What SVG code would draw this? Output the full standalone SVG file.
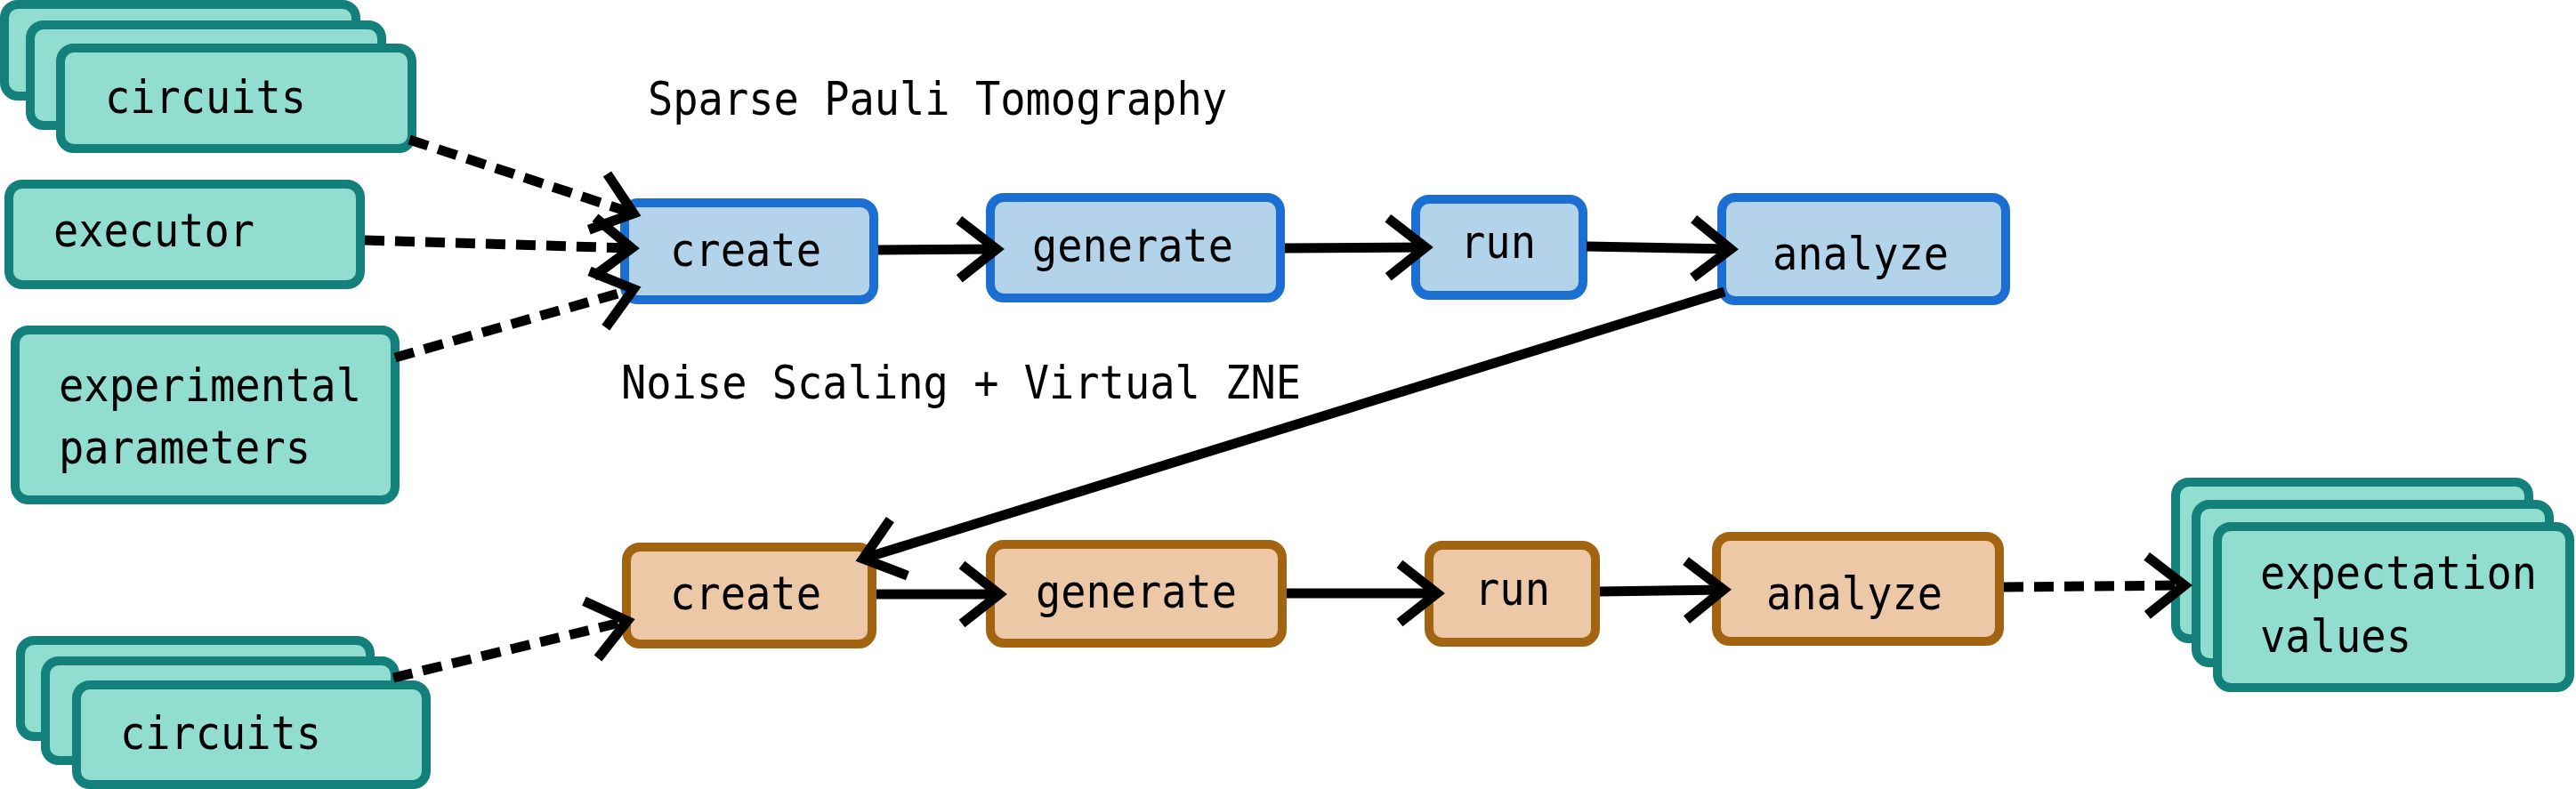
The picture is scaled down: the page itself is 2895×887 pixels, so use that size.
<svg xmlns="http://www.w3.org/2000/svg" width="2895" height="887" viewBox="0 0 2895 887">
<style>
.teal{fill:#91ddd0;stroke:#14807c;stroke-width:10}
.blue{fill:#b3d3eb;stroke:#1b6fd2;stroke-width:10}
.orange{fill:#ecc8a6;stroke:#a36412;stroke-width:10}
text{font-family:"DejaVu Sans Mono","Liberation Mono",monospace;font-size:51px;fill:#000}
.solid{fill:none;stroke:#000;stroke-width:11;marker-end:url(#chev)}
.dash{fill:none;stroke:#000;stroke-width:11;stroke-dasharray:22 12;marker-end:url(#chev)}
</style>
<defs>
<marker id="chev" markerUnits="userSpaceOnUse" viewBox="-60 -50 70 100" markerWidth="70" markerHeight="100" refX="0" refY="0" orient="auto" overflow="visible">
<path d="M-42,-33 L0,0 L-42,33" fill="none" stroke="#000" stroke-width="11" stroke-dasharray="none" stroke-linejoin="miter" stroke-miterlimit="10"/>
</marker>
</defs>
<rect width="2895" height="887" fill="#fff"/>
<text x="728" y="129" textLength="651" lengthAdjust="spacingAndGlyphs">Sparse Pauli Tomography</text>
<text x="698" y="448" textLength="764" lengthAdjust="spacingAndGlyphs">Noise Scaling + Virtual ZNE</text>
<g id="circuits-in-top">
<rect class="teal" x="5" y="5" width="395" height="103" rx="15"/>
<rect class="teal" x="34" y="28" width="395" height="113" rx="15"/>
<rect class="teal" x="68" y="54" width="395" height="113" rx="15"/>
<text x="118" y="127" textLength="226" lengthAdjust="spacingAndGlyphs">circuits</text>
</g>
<g id="executor">
<rect class="teal" x="10" y="207" width="395" height="113" rx="15"/>
<text x="60" y="277" textLength="226" lengthAdjust="spacingAndGlyphs">executor</text>
</g>
<g id="experimental-parameters">
<rect class="teal" x="17" y="371" width="427" height="191" rx="15"/>
<text x="66" y="451" textLength="340" lengthAdjust="spacingAndGlyphs">experimental</text>
<text x="66" y="521" textLength="283" lengthAdjust="spacingAndGlyphs">parameters</text>
</g>
<g id="circuits-in-bottom">
<rect class="teal" x="23" y="720" width="393" height="108" rx="15"/>
<rect class="teal" x="51" y="743" width="393" height="112" rx="15"/>
<rect class="teal" x="86" y="770" width="393" height="112" rx="15"/>
<text x="135" y="842" textLength="226" lengthAdjust="spacingAndGlyphs">circuits</text>
</g>
<g id="expectation-values">
<rect class="teal" x="2445" y="542" width="397" height="176" rx="15"/>
<rect class="teal" x="2468" y="567" width="397" height="178" rx="15"/>
<rect class="teal" x="2492" y="592" width="396" height="181" rx="15"/>
<text x="2540" y="662" textLength="311" lengthAdjust="spacingAndGlyphs">expectation</text>
<text x="2540" y="733" textLength="170" lengthAdjust="spacingAndGlyphs">values</text>
</g>
<g id="spt-create">
<rect class="blue" x="702" y="228" width="280" height="109" rx="15"/>
<text x="753" y="299" textLength="170" lengthAdjust="spacingAndGlyphs">create</text>
</g>
<g id="spt-generate">
<rect class="blue" x="1113" y="222" width="326" height="113" rx="15"/>
<text x="1160" y="294" textLength="226" lengthAdjust="spacingAndGlyphs">generate</text>
</g>
<g id="spt-run">
<rect class="blue" x="1591" y="224" width="188" height="108" rx="15"/>
<text x="1641" y="290" textLength="85" lengthAdjust="spacingAndGlyphs">run</text>
</g>
<g id="spt-analyze">
<rect class="blue" x="1935" y="222" width="319" height="116" rx="15"/>
<text x="1992" y="303" textLength="198" lengthAdjust="spacingAndGlyphs">analyze</text>
</g>
<g id="nsv-create">
<rect class="orange" x="704" y="615" width="276" height="109" rx="15"/>
<text x="753" y="685" textLength="170" lengthAdjust="spacingAndGlyphs">create</text>
</g>
<g id="nsv-generate">
<rect class="orange" x="1113" y="612" width="328" height="111" rx="15"/>
<text x="1164" y="683" textLength="226" lengthAdjust="spacingAndGlyphs">generate</text>
</g>
<g id="nsv-run">
<rect class="orange" x="1606" y="613" width="187" height="109" rx="15"/>
<text x="1657" y="680" textLength="85" lengthAdjust="spacingAndGlyphs">run</text>
</g>
<g id="nsv-analyze">
<rect class="orange" x="1929" y="603" width="318" height="118" rx="15"/>
<text x="1985" y="685" textLength="198" lengthAdjust="spacingAndGlyphs">analyze</text>
</g>
<g id="connectors">
<path class="dash" d="M460,157 L712,240"/>
<path class="dash" d="M410,270 L710,279"/>
<path class="dash" d="M444,402 L712,325"/>
<path class="dash" d="M442,762 L705,698"/>
<path class="dash" d="M2252,660 L2455,658"/>
<path class="solid" d="M987,281 L1120,280"/>
<path class="solid" d="M1444,279 L1602,278"/>
<path class="solid" d="M1783,277 L1945,280"/>
<path class="solid" d="M1938,328 L970,628"/>
<path class="solid" d="M985,668 L1123,668"/>
<path class="solid" d="M1446,667 L1615,667"/>
<path class="solid" d="M1798,665 L1937,663"/>
</g>
</svg>
